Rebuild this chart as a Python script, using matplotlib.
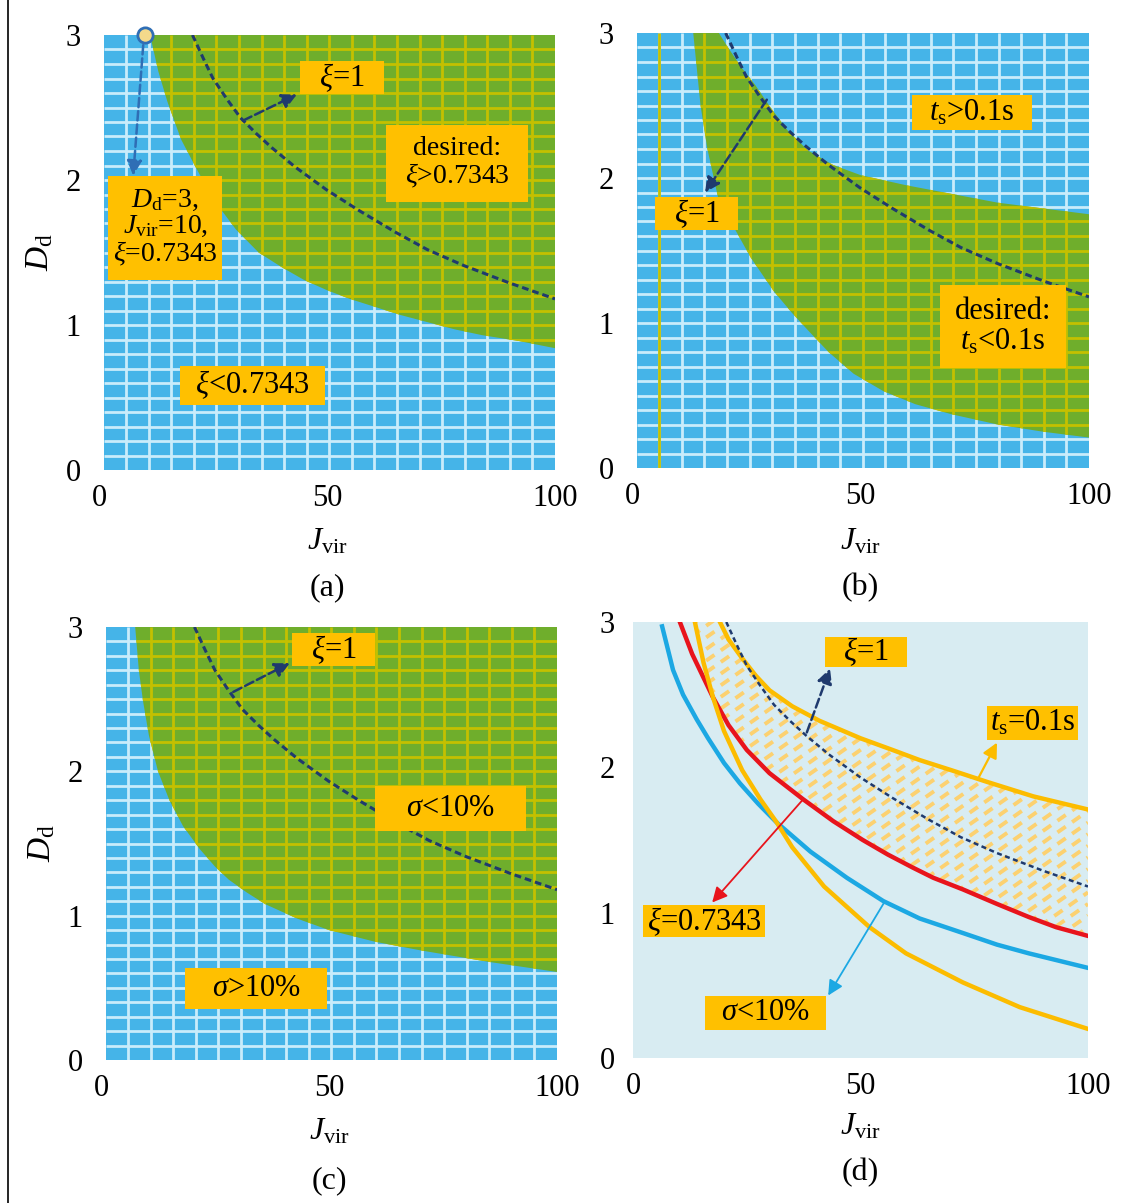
import numpy as np
import matplotlib
matplotlib.use('Agg')
import matplotlib.pyplot as plt
from matplotlib.patches import Polygon, Rectangle
from matplotlib.lines import Line2D

plt.rcParams['font.family'] = 'serif'
plt.rcParams['font.serif'] = ['Liberation Serif', 'DejaVu Serif']
plt.rcParams['mathtext.fontset'] = 'custom'
plt.rcParams['mathtext.rm'] = 'Liberation Serif'
plt.rcParams['mathtext.it'] = 'Liberation Serif:italic'

# ---- data (J_vir, D_d) ----
j_ticks = [0, 50, 100]
d_ticks = [0, 1, 2, 3]

# (a) boundary of xi > 0.7343
j_a = [11.2, 13, 15, 18, 21, 25, 30, 35, 40, 45, 50, 55, 60, 66, 72, 78, 84, 92, 100]
d_a = [3.0, 2.75, 2.54, 2.28, 2.10, 1.87, 1.66, 1.50, 1.40, 1.31, 1.24, 1.18, 1.13,
       1.07, 1.02, 0.97, 0.93, 0.89, 0.84]

# (b) region t_s < 0.1 s, upper and lower edges
j_b_up = [19, 21, 24, 27, 30, 34, 38.5, 44, 50, 60, 70, 80, 90, 100]
d_b_up = [3.0, 2.9, 2.76, 2.64, 2.5, 2.33, 2.19, 2.09, 2.02, 1.95, 1.89, 1.83, 1.79, 1.75]
j_b_lo = [13.4, 14.2, 15, 16.5, 18.8, 21, 23, 26, 31, 35, 38.5, 43, 48.5, 55, 62, 70,
          80, 90, 100]
d_b_lo = [3.0, 2.75, 2.5, 2.2, 1.87, 1.73, 1.62, 1.45, 1.22, 1.07, 0.95, 0.80, 0.65,
          0.53, 0.44, 0.37, 0.30, 0.25, 0.21]

# (c) boundary of sigma < 10 %
j_c = [7.5, 8.3, 9.2, 10.5, 12.5, 15, 18, 21.7, 25, 28, 32, 36, 43, 50, 60, 70, 85, 100]
d_c = [3.0, 2.7, 2.49, 2.25, 2.0, 1.8, 1.62, 1.46, 1.34, 1.25, 1.16, 1.08, 0.98,
       0.90, 0.82, 0.76, 0.68, 0.61]

# xi = 1 (dashed, all panels)
j_z1 = [20.5, 23, 25, 28, 31, 34.5, 38, 43, 50, 57, 65, 72, 80, 90, 100]
d_z1 = [3.0, 2.83, 2.7, 2.56, 2.43, 2.32, 2.22, 2.09, 1.93, 1.79, 1.64, 1.52, 1.41,
        1.29, 1.18]

# (d) sketch curves
j_red = [10.3, 13, 17.6, 21, 25, 30, 37.4, 44, 50.5, 56, 61.5, 66, 72.5, 80, 87, 93, 100]
d_red = [3.0, 2.78, 2.48, 2.29, 2.12, 1.96, 1.78, 1.63, 1.5, 1.40, 1.31, 1.24, 1.16,
         1.06, 0.97, 0.90, 0.84]
j_ts_lo = [13.6, 15.5, 17.6, 20, 24, 28, 31.6, 35, 42, 52, 60, 72.5, 85, 100]
d_ts_lo = [3.0, 2.72, 2.48, 2.25, 1.98, 1.78, 1.62, 1.45, 1.18, 0.90, 0.72, 0.52, 0.35, 0.20]
j_ts_up = [19.1, 21, 24, 27, 30, 35, 41, 50, 57, 63, 70, 77.8, 88, 100]
d_ts_up = [3.0, 2.88, 2.75, 2.63, 2.53, 2.42, 2.32, 2.2, 2.12, 2.05, 1.98, 1.9, 1.8, 1.71]
j_sig = [6.4, 8.8, 11, 14, 16.5, 20, 23.5, 27.5, 31.6, 39, 47, 55, 63, 72.5, 80, 87, 100]
d_sig = [2.97, 2.67, 2.5, 2.33, 2.2, 2.03, 1.89, 1.75, 1.62, 1.42, 1.24, 1.08, 0.96,
         0.86, 0.78, 0.72, 0.62]

# colours
BLUE = '#45b4e8'
WHITE_LINE = '#c9ecfb'
GREEN = '#6fae2c'
YELLOW_LINE = '#c4c000'
BOX = '#ffc000'
NAVY = '#1f3a6e'
D_BG = '#d8ecf2'
RED = '#e8141c'
BLUE_CURVE = '#1ca8e3'
YELLOW_CURVE = '#fcbc00'
HATCH = '#fcd170'

W, H = 1139, 1203
fig = plt.figure(figsize=(W / 100, H / 100), dpi=100)
fig.add_artist(Line2D([8 / W, 8 / W], [0, 1], color='black', lw=1.2))


def make_axes(x0, x1, ytop, ybot):
    ax = fig.add_axes([x0 / W, 1 - ybot / H, (x1 - x0) / W, (ybot - ytop) / H])
    ax.set_xlim(0, 100)
    ax.set_ylim(0, 3)
    for s in ax.spines.values():
        s.set_visible(False)
    ax.set_xticks(j_ticks)
    ax.set_yticks(d_ticks)
    ax.tick_params(length=0, labelsize=22)
    ax.tick_params(axis='x', pad=10)
    ax.tick_params(axis='y', pad=13)
    return ax


def grid_panel(ax, region, odd_col=False):
    ax.add_patch(Rectangle((1, 0), 99, 3, fc=BLUE, ec='none', zorder=1))
    xs = np.linspace(1, 100, 21)[1:-1]
    ys = np.linspace(0, 3, 31)[1:-1]
    ax.vlines(xs, 0, 3, colors=WHITE_LINE, lw=2, zorder=2)
    ax.hlines(ys, 1, 100, colors=WHITE_LINE, lw=2, zorder=2)
    if odd_col:
        ax.vlines(xs[:1], 0, 3, colors=YELLOW_LINE, lw=2, zorder=2.5)
    poly = Polygon(region, closed=True, fc=GREEN, ec='none', zorder=3)
    ax.add_patch(poly)
    v = ax.vlines(xs, 0, 3, colors=YELLOW_LINE, lw=2, zorder=4)
    h = ax.hlines(ys, 1, 100, colors=YELLOW_LINE, lw=2, zorder=4)
    v.set_clip_path(poly)
    h.set_clip_path(poly)


def label_box(ax, x, y, w, h, text, size=22):
    ax.add_patch(Rectangle((x, y), w, h, fc=BOX, ec='none', zorder=7))
    ax.text(x + w / 2, y + h / 2, text, ha='center', va='center',
            fontsize=size, zorder=8, linespacing=1.05)


def arrow(ax, start, end, color, lw=1.8, ls='--', ms=15):
    ax.annotate('', xy=end, xytext=start, zorder=6,
                arrowprops=dict(arrowstyle='-|>,head_length=0.6,head_width=0.3',
                                color=color, lw=lw, linestyle=ls,
                                mutation_scale=ms, shrinkA=0, shrinkB=0))


def axis_texts(ax, tag, ylab, dy_lab, dy_tag):
    ax.text(0.5, dy_lab, r'$J_{\mathrm{vir}}$', transform=ax.transAxes,
            ha='center', va='center', fontsize=23)
    ax.text(0.5, dy_tag, tag, transform=ax.transAxes,
            ha='center', va='center', fontsize=23)
    if ylab:
        ax.text(-0.13, 0.5, r'$D_{\mathrm{d}}$', transform=ax.transAxes,
                ha='center', va='center', fontsize=24, rotation=90)


dash = (0, (2.2, 1.3))

# ---------- (a) ----------
ax = make_axes(99, 555, 35, 470)
grid_panel(ax, list(zip(j_a, d_a)) + [(100, 3)])
ax.plot(j_z1, d_z1, color=NAVY, lw=2.2, ls=dash, zorder=5)
ax.plot([10], [3], 'o', ms=11, mfc='#f3d98b', mec='#2f6eb5', mew=2,
        zorder=9, clip_on=False)
arrow(ax, (9.7, 2.93), (7.5, 2.03), '#2f6eb5')
arrow(ax, (31.6, 2.41), (43.4, 2.59), NAVY)
label_box(ax, 44, 2.59, 18.5, 0.23, r'$\xi$=1')
label_box(ax, 63, 1.85, 31, 0.53, 'desired:\n' + r'$\xi$>0.7343', size=20)
label_box(ax, 2, 1.31, 25, 0.72,
          r'$D_{\mathrm{d}}$=3,' + '\n' + r'$J_{\mathrm{vir}}$=10,' + '\n' + r'$\xi$=0.7343',
          size=20)
label_box(ax, 17.8, 0.45, 31.8, 0.27, r'$\xi$<0.7343')
axis_texts(ax, '(a)', True, -0.165, -0.27)

# ---------- (b) ----------
ax = make_axes(632, 1089, 33, 468)
region_b = list(zip(j_b_up, d_b_up)) + list(zip(j_b_lo, d_b_lo))[::-1]
grid_panel(ax, region_b, odd_col=True)
ax.plot(j_z1, d_z1, color=NAVY, lw=2.2, ls=dash, zorder=5)
arrow(ax, (29.5, 2.54), (16, 1.9), NAVY)
label_box(ax, 61.3, 2.33, 26.2, 0.24, r'$t_{\mathrm{s}}$>0.1s')
label_box(ax, 5, 1.64, 18.2, 0.23, r'$\xi$=1')
label_box(ax, 67.4, 0.69, 27.6, 0.57, 'desired:\n' + r'$t_{\mathrm{s}}$<0.1s')
axis_texts(ax, '(b)', False, -0.17, -0.275)

# ---------- (c) ----------
ax = make_axes(101, 557, 627, 1060)
grid_panel(ax, list(zip(j_c, d_c)) + [(100, 3)])
ax.plot(j_z1, d_z1, color=NAVY, lw=2.2, ls=dash, zorder=5)
arrow(ax, (29, 2.55), (41.4, 2.75), NAVY)
label_box(ax, 41.9, 2.73, 18.2, 0.23, r'$\xi$=1')
label_box(ax, 60.1, 1.59, 33.1, 0.31, r'$\sigma$<10%')
label_box(ax, 18.4, 0.35, 31.2, 0.29, r'$\sigma$>10%')
axis_texts(ax, '(c)', True, -0.166, -0.278)

# ---------- (d) ----------
ax = make_axes(633, 1088, 622, 1058)
ax.add_patch(Rectangle((0, 0), 100, 3, fc=D_BG, ec='none', zorder=0))
# hatched region: above red / lower t_s curve, below upper t_s curve
cross = 17.6
lower = [(j, d) for j, d in zip(j_ts_lo, d_ts_lo) if j <= cross] + \
        [(j, d) for j, d in zip(j_red, d_red) if j > cross]
hatch_poly = Polygon(list(zip(j_ts_up, d_ts_up)) + lower[::-1], closed=True,
                     fc='none', ec='none', zorder=1)
ax.add_patch(hatch_poly)
slope = 0.022
hj = np.array([0, 100])
for off in np.arange(-2.5, 3.2, 0.08):
    ln, = ax.plot(hj, off + slope * hj, color=HATCH, lw=2.8,
                  ls=(0, (2.6, 2.0)), zorder=1.5, solid_capstyle='butt')
    ln.set_clip_path(hatch_poly)
ax.plot(j_sig, d_sig, color=BLUE_CURVE, lw=3.2, zorder=3)
ax.plot(j_red, d_red, color=RED, lw=3.2, zorder=3)
ax.plot(j_ts_lo, d_ts_lo, color=YELLOW_CURVE, lw=3.2, zorder=3)
ax.plot(j_ts_up, d_ts_up, color=YELLOW_CURVE, lw=3.2, zorder=3)
ax.plot(j_z1, d_z1, color=NAVY, lw=1.8, ls=(0, (2, 1.4)), zorder=4)
arrow(ax, (38.2, 2.24), (43.3, 2.68), NAVY)
arrow(ax, (75.8, 1.92), (80, 2.17), YELLOW_CURVE, lw=1.6, ls='-')
arrow(ax, (37.4, 1.78), (17.4, 1.07), RED, lw=1.3, ls='-')
arrow(ax, (55.4, 1.08), (42.9, 0.43), BLUE_CURVE, lw=1.3, ls='-')
label_box(ax, 42.2, 2.69, 18, 0.21, r'$\xi$=1')
label_box(ax, 77.8, 2.19, 20, 0.23, r'$t_{\mathrm{s}}$=0.1s')
label_box(ax, 2.2, 0.83, 26.8, 0.22, r'$\xi$=0.7343')
label_box(ax, 15.8, 0.19, 26.6, 0.24, r'$\sigma$<10%')
axis_texts(ax, '(d)', False, -0.158, -0.262)

fig.savefig('out.png', dpi=100)
